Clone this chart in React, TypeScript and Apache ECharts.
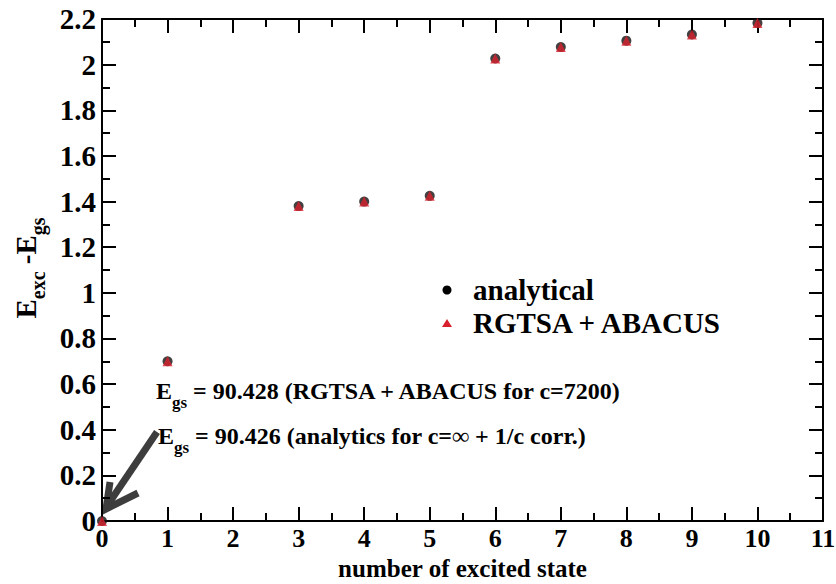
import React, { useEffect, useRef } from "react";
import * as echarts from "echarts";

const states = [0, 1, 3, 4, 5, 6, 7, 8, 9, 10];
const analytical = [0, 0.7, 1.38, 1.4, 1.425, 2.027, 2.077, 2.105, 2.132, 2.182];
const rgtsa = [0, 0.7, 1.38, 1.4, 1.425, 2.027, 2.077, 2.105, 2.132, 2.182];
const xLabels = ["0", "1", "2", "3", "4", "5", "6", "7", "8", "9", "10", "11"];
const yLabels = ["0", "0.2", "0.4", "0.6", "0.8", "1", "1.2", "1.4", "1.6", "1.8", "2", "2.2"];
const seriesNames = ["analytical", "RGTSA + ABACUS"];
const annotation1 = "= 90.428 (RGTSA + ABACUS for c=7200)";
const annotation2 = "= 90.426 (analytics for c=\u221e + 1/c corr.)";

const FONT = "Liberation Serif";

export default function App() {
  const ref = useRef<HTMLDivElement>(null);
  useEffect(() => {
    if (!ref.current) return;
    const chart = echarts.init(ref.current, undefined, { renderer: "svg" });
    const tick = { show: true, inside: true, length: 14, lineStyle: { color: "#000", width: 2 } };
    const minor = { show: true, splitNumber: 2, length: 8, lineStyle: { color: "#000", width: 2 } };
    const line = { show: true, onZero: false, lineStyle: { color: "#000", width: 2 } };
    const labelStyle = { fontFamily: FONT, fontWeight: "bold" as const, fontSize: 29, color: "#000" };
    const richE = {
      m: { fontFamily: FONT, fontWeight: "bold", fontSize: 24, color: "#000", lineHeight: 26, verticalAlign: "top" },
      s: { fontFamily: FONT, fontWeight: "bold", fontSize: 17, color: "#000", lineHeight: 17, verticalAlign: "top", padding: [15, 0, 0, 0] },
    };
    const richY = {
      m: { fontFamily: FONT, fontWeight: "bold", fontSize: 29, color: "#000", lineHeight: 30, verticalAlign: "top" },
      s: { fontFamily: FONT, fontWeight: "bold", fontSize: 20, color: "#000", lineHeight: 20, verticalAlign: "top", padding: [17, 0, 0, 0] },
    };
    chart.setOption({
      animation: false,
      backgroundColor: "#fff",
      grid: { left: 102, right: 13, top: 19, bottom: 63, containLabel: false, outerBoundsMode: "none" },
      xAxis: [
        {
          type: "value", min: 0, max: 11, interval: 1, position: "bottom",
          axisLine: line, axisTick: tick, minorTick: minor, splitLine: { show: false },
          axisLabel: { ...labelStyle, fontSize: 26, lineHeight: 26, margin: 4, formatter: (v: number) => xLabels[Math.round(v)] ?? "" },
          name: "number of excited state", nameLocation: "middle", nameGap: 35, nameMoveOverlap: false,
          nameTextStyle: { fontFamily: FONT, fontWeight: "bold", fontSize: 25, color: "#000", lineHeight: 25 },
        },
        {
          type: "value", min: 0, max: 11, interval: 1, position: "top",
          axisLine: line, axisTick: tick, minorTick: minor, splitLine: { show: false },
          axisLabel: { show: false },
        },
      ],
      yAxis: [
        {
          type: "value", min: 0, max: 2.2, interval: 0.2, position: "left",
          axisLine: line, axisTick: tick, minorTick: minor, splitLine: { show: false },
          axisLabel: { ...labelStyle, margin: 6, formatter: (v: number) => yLabels[Math.round(v / 0.2)] ?? "" },
        },
        {
          type: "value", min: 0, max: 2.2, interval: 0.2, position: "right",
          axisLine: line, axisTick: tick, minorTick: minor, splitLine: { show: false },
          axisLabel: { show: false },
        },
      ],
      series: [
        {
          name: seriesNames[0], type: "scatter", symbol: "circle", symbolSize: 10,
          itemStyle: { color: "#111" }, clip: false,
          data: states.map((s, i) => [s, analytical[i]]),
        },
        {
          name: seriesNames[1], type: "scatter", symbol: "triangle", symbolSize: 10,
          itemStyle: { color: "#d8202c" }, clip: false,
          data: states.map((s, i) => [s, rgtsa[i]]),
        },
      ],
      graphic: [
        {
          type: "text", x: 26, y: 268, rotation: Math.PI / 2,
          style: {
            text: "{m|E}{s|exc}{m| -E}{s|gs}", rich: richY, align: "center", verticalAlign: "middle",
          },
        },
        { type: "circle", shape: { cx: 447, cy: 290, r: 4.5 }, style: { fill: "#000" } },
        {
          type: "text", x: 473, y: 290,
          style: { text: seriesNames[0], fontFamily: FONT, fontWeight: "bold", fontSize: 29, fill: "#000", verticalAlign: "middle" },
        },
        { type: "polygon", shape: { points: [[442, 327], [452, 327], [447, 319]] }, style: { fill: "#d8202c" } },
        {
          type: "text", x: 473, y: 323,
          style: { text: seriesNames[1], fontFamily: FONT, fontWeight: "bold", fontSize: 29, fill: "#000", verticalAlign: "middle" },
        },
        {
          type: "text", x: 156, y: 379,
          style: { text: "{m|E}{s|gs}{m| " + annotation1 + "}", rich: richE },
        },
        {
          type: "text", x: 158, y: 424,
          style: { text: "{m|E}{s|gs}{m| " + annotation2 + "}", rich: richE },
        },
        {
          type: "polyline", shape: { points: [[157, 432], [107, 506]] },
          style: { stroke: "#3d3d3d", lineWidth: 7, fill: null },
        },
        {
          type: "polyline", shape: { points: [[110, 482], [106, 509], [138, 493]] },
          style: { stroke: "#3d3d3d", lineWidth: 7, fill: null, lineJoin: "miter" },
        },
      ],
    });
    return () => chart.dispose();
  }, []);
  return <div ref={ref} style={{ position: "fixed", left: 0, top: 0, width: 836, height: 584 }} />;
}
